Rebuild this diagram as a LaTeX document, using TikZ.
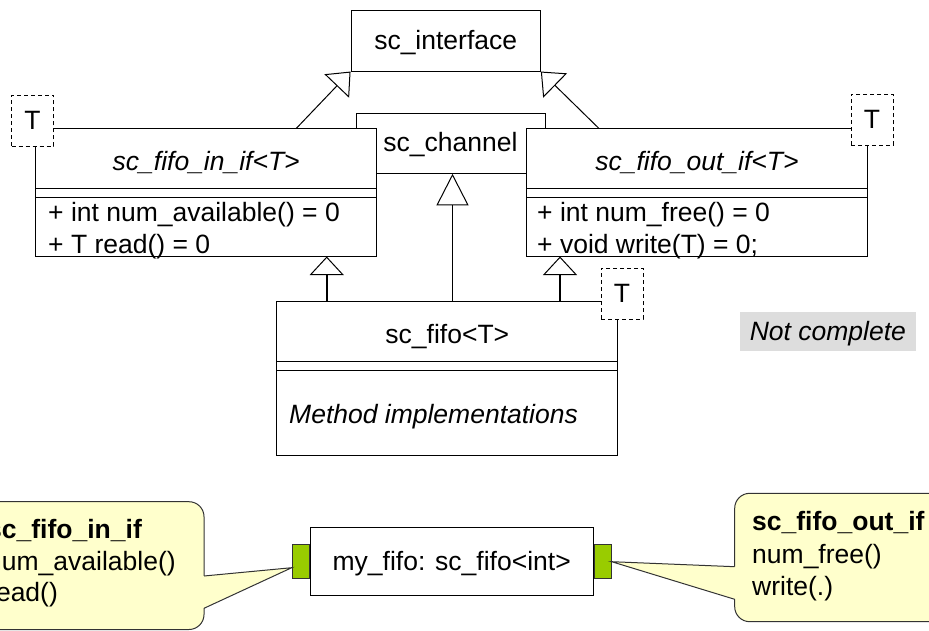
\documentclass[tikz,border=0pt]{standalone}
\usepackage{fontspec}
\setmainfont{Liberation Sans}
\usetikzlibrary{arrows.meta,calc}
\definecolor{noteyellow}{HTML}{FFFFCC}
\definecolor{portgreen}{HTML}{99CC00}
\definecolor{darkline}{HTML}{333333}
\definecolor{greybg}{HTML}{DDDDDD}
\begin{document}
\begin{tikzpicture}[x=1pt,y=-1pt,
  txt/.style={font=\fontsize{26.5pt}{31.7pt}\selectfont, text height=19.9pt, text depth=2.6pt, inner sep=0pt},
  box/.style={draw=black, line width=1pt, fill=white, inner sep=0pt},
  tbox/.style={box, dash pattern=on 4pt off 3pt, minimum width=42pt, minimum height=51pt, txt},
  diag/.style={line width=1pt, -{Triangle[open, length=20pt, width=34pt, line width=1pt]}},
  vert/.style={line width=1.8pt, -{Triangle[open, length=18.5pt, width=34pt, line width=1pt]}},
  vertbig/.style={line width=1.8pt, -{Triangle[open, length=31.5pt, width=32pt, line width=1pt]}},
  sep/.style={line width=1pt},
  port/.style={draw=darkline, line width=0.8pt, fill=portgreen, minimum width=17pt, minimum height=34pt, inner sep=0pt},
  note/.style={draw=darkline, line width=1pt, fill=noteyellow, rounded corners=15pt},
  pointer/.style={draw=darkline, line width=1pt, line join=miter},
]
\useasboundingbox (0,0) rectangle (929,631);
\begin{scope}
\clip (0,0) rectangle (929,631);

% sc_channel (behind the interface classes)
\node[box, txt, minimum width=189pt, minimum height=60pt] (chan) at (450.5,143.3) {sc\_channel};
% sc_interface
\node[box, txt, minimum width=189.3pt, minimum height=60.3pt] (sci) at (445.7,40.9) {sc\_interface};

% sc_fifo_in_if<T>
\node[box, minimum width=341pt, minimum height=127pt] (inif) at (206.2,192.5) {};
\draw[sep] (35.7,188.8) -- (376.7,188.8);
\draw[sep] (35.7,197.5) -- (376.7,197.5);
\node[txt] (inifname) at (206.2,161.5) {\itshape sc\_fifo\_in\_if<T>};
\node[txt, anchor=west] (inifm1) at (48,212.5) {+ int num\_available() = 0};
\node[txt, anchor=west] (inifm2) at (48,244.5) {+ T read() = 0};
\node[tbox] (inifT) at (32.5,121) {T};

% sc_fifo_out_if<T>
\node[box, minimum width=340.6pt, minimum height=127pt] (outif) at (697,192.5) {};
\draw[sep] (526.7,188.8) -- (867.3,188.8);
\draw[sep] (526.7,197.5) -- (867.3,197.5);
\node[txt] (outifname) at (697,161.5) {\itshape sc\_fifo\_out\_if<T>};
\node[txt, anchor=west] (outifm1) at (537,212.5) {+ int num\_free() = 0};
\node[txt, anchor=west] (outifm2) at (537,244.5) {+ void write(T) = 0;};
\node[tbox] (outifT) at (872,120) {T};

% generalisations to sc_interface
\draw[diag] ([xshift=90pt]inif.north) -- (sci.south west);
\draw[diag] ([xshift=-98pt]outif.north) -- (sci.south east);

% sc_fifo<T>
\node[box, minimum width=341.3pt, minimum height=154.3pt] (fifo) at (447.3,378.8) {};
\draw[sep] (276.7,361.7) -- (618,361.7);
\draw[sep] (276.7,370.7) -- (618,370.7);
\node[txt] (fifoname) at (447.3,335) {sc\_fifo<T>};
\node[txt, anchor=west] (fifom) at (289,415) {\itshape Method implementations};
\node[tbox] (fifoT) at (622,293.7) {T};

% generalisations from sc_fifo
\coordinate (xa) at (326.7,0);
\coordinate (xb) at (452.5,0);
\coordinate (xc) at (560,0);
\draw[vert] (fifo.north -| xa) -- (inif.south -| xa);
\draw[vertbig] (fifo.north -| xb) -- (chan.south -| xb);
\draw[vert] (fifo.north -| xc) -- (outif.south -| xc);

% Not complete
\node[txt, fill=greybg, minimum width=175.7pt, minimum height=38.4pt] (nc) at (827.9,331.5) {\itshape Not complete};

% instance with ports
\node[box, txt, minimum width=283.3pt, minimum height=68pt] (myfifo) at (451.7,561.7) {my\_fifo: sc\_fifo<int>};
\node[port, anchor=east] (pL) at (myfifo.west) {};
\node[port, anchor=west] (pR) at (myfifo.east) {};

% left callout
\draw[note] (-30,501.7) rectangle (204,629.5);
\fill[noteyellow] (203,576) -- ([yshift=-6pt]pL.west) -- (203,608.3) -- cycle;
\draw[pointer] (204,576) -- ([yshift=-6pt]pL.west) -- (204,608.3);
\node[txt, anchor=west] (lc1) at (-13,530) {\bfseries sc\_fifo\_in\_if};
\node[txt, anchor=west] (lc2) at (-13,561.7) {num\_available()};
\node[txt, anchor=west] (lc3) at (-13,593.3) {read()};

% right callout
\draw[note] (734.7,493.3) rectangle (970,621.7);
\fill[noteyellow] (735.8,566.7) -- (pR.east) -- (735.8,599.3) -- cycle;
\draw[pointer] (734.7,566.7) -- (pR.east) -- (734.7,599.3);
\node[txt, anchor=west] (rc1) at (752,521.7) {\bfseries sc\_fifo\_out\_if};
\node[txt, anchor=west] (rc2) at (752,555) {num\_free()};
\node[txt, anchor=west] (rc3) at (752,586.7) {write(.)};
\end{scope}
\end{tikzpicture}
\end{document}
